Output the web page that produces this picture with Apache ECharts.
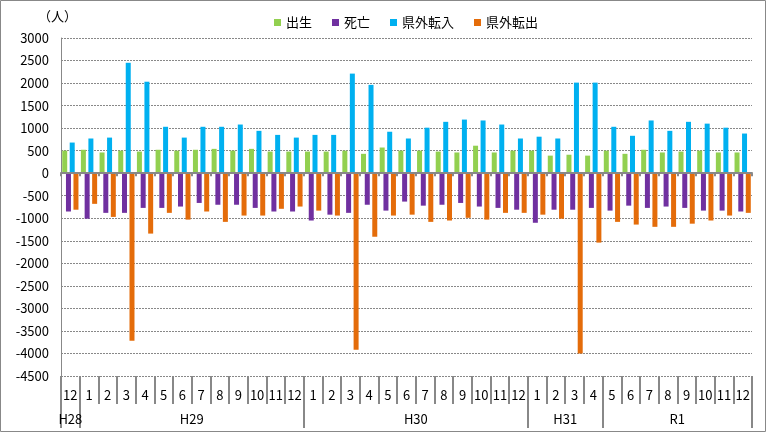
<!DOCTYPE html>
<html><head><meta charset="utf-8">
<script src="https://cdn.jsdelivr.net/npm/echarts@6/dist/echarts.min.js"></script>
<style>html,body{margin:0;padding:0;background:#fff}#c{width:766px;height:432px}</style>
</head><body><div id="c"></div>
<script>
const months = ['12','1','2','3','4','5','6','7','8','9','10','11','12','1','2','3','4','5','6','7','8','9','10','11','12','1','2','3','4','5','6','7','8','9','10','11','12'];
const years = ['H28','H29','H30','H31','R1'];
const yearSpans = [1,12,12,4,8];
const seriesNames = ['出生','死亡','県外転入','県外転出'];
const births = [500,520,460,500,480,520,500,520,540,500,540,480,480, 480,480,500,430,570,500,500,480,460,610,460,500, 500,390,410,390, 500,430,520,460,480,500,460,460];
const deaths = [-850,-1010,-880,-880,-770,-770,-740,-660,-700,-700,-770,-850,-850, -1050,-920,-880,-700,-830,-630,-720,-700,-660,-740,-770,-810, -1100,-810,-810,-770, -830,-720,-770,-740,-770,-830,-830,-850];
const inflows = [680,770,790,2450,2030,1030,790,1030,1030,1080,940,850,790, 850,850,2210,1960,920,770,1010,1140,1190,1170,1080,770, 810,770,2010,2010, 1030,830,1170,940,1140,1100,1010,880];
const outflows = [-810,-680,-970,-3720,-1340,-880,-1030,-850,-1080,-940,-940,-790,-740, -830,-940,-3920,-1410,-940,-920,-1080,-1050,-990,-1030,-880,-880, -920,-1010,-4000,-1540, -1080,-1140,-1190,-1190,-1120,-1050,-940,-880];
const yTicks = {min:-4500, max:3000, step:500};
const colors = ['#92D050','#7030A0','#00B0F0','#E46C0A'];

// year boundaries and centers (in category units)
const bounds = [0]; yearSpans.forEach(s => bounds.push(bounds[bounds.length-1] + s));
const centers = yearSpans.map((s,i) => bounds[i] + s/2);

const FONT = '"Noto Sans CJK JP", sans-serif';
const grey = '#888';
const gridRect = {left:61, right:14, top:38, bottom:56};

const chart = echarts.init(document.getElementById('c'), null, {renderer:'canvas'});
const dataArr = [births, deaths, inflows, outflows];
chart.setOption({
  animation:false,
  textStyle:{fontFamily:FONT},
  graphic:[{type:'rect', shape:{x:0.5,y:0.5,width:765,height:431}, style:{fill:'none', stroke:grey, lineWidth:1}, silent:true}],
  title:{text:'（人）', left:38, top:10, padding:0, textStyle:{fontSize:13, fontWeight:'normal', color:'#000', fontFamily:FONT}},
  legend:{left:274, top:16, padding:0, itemWidth:7, itemHeight:7, itemGap:20, icon:'rect',
    textStyle:{fontSize:13, color:'#000', fontFamily:FONT}, data:seriesNames},
  grid:[Object.assign({}, gridRect), Object.assign({}, gridRect), Object.assign({}, gridRect)],
  xAxis:[
    {type:'category', gridIndex:0, data:months, position:'bottom', z:10,
      axisLine:{onZero:true, lineStyle:{color:grey, width:2}},
      axisTick:{show:true, length:3, lineStyle:{color:grey, width:2}},
      axisLabel:{show:false}, splitLine:{show:false}},
    {type:'category', gridIndex:1, data:months, position:'bottom',
      axisLine:{show:true, onZero:false, lineStyle:{opacity:0}},
      axisTick:{show:true, length:28, lineStyle:{color:grey, width:2}},
      axisLabel:{show:true, margin:13, fontSize:13, color:'#000', fontFamily:FONT, interval:0},
      splitLine:{show:false}},
    {type:'value', gridIndex:2, min:0, max:bounds[bounds.length-1], position:'bottom',
      axisLine:{show:true, onZero:false, lineStyle:{opacity:0}}, splitLine:{show:false},
      axisTick:{show:true, length:52, customValues:bounds, lineStyle:{color:grey, width:2}},
      axisLabel:{show:true, margin:37, fontSize:13, color:'#000', fontFamily:FONT, customValues:centers,
        formatter:(v)=>{const i = centers.indexOf(v); return i>=0 ? years[i] : '';}}}
  ],
  yAxis:[
    {type:'value', gridIndex:0, min:yTicks.min, max:yTicks.max, interval:yTicks.step,
      axisLine:{show:true, lineStyle:{color:grey, width:1}}, axisTick:{show:false},
      axisLabel:{margin:12, fontSize:13, color:'#000', fontFamily:FONT, formatter:(v)=>String(v)},
      splitLine:{show:true, lineStyle:{color:grey, width:1, type:[2,1]}}},
    {type:'value', gridIndex:1, min:yTicks.min, max:yTicks.max, show:false},
    {type:'value', gridIndex:2, min:yTicks.min, max:yTicks.max, show:false}
  ],
  series: seriesNames.map((n,i)=>({
    name:n, type:'bar', xAxisIndex:0, yAxisIndex:0, data:dataArr[i],
    barWidth:5, barGap:'-25%', itemStyle:{color:colors[i]}
  }))
});
</script></body></html>
